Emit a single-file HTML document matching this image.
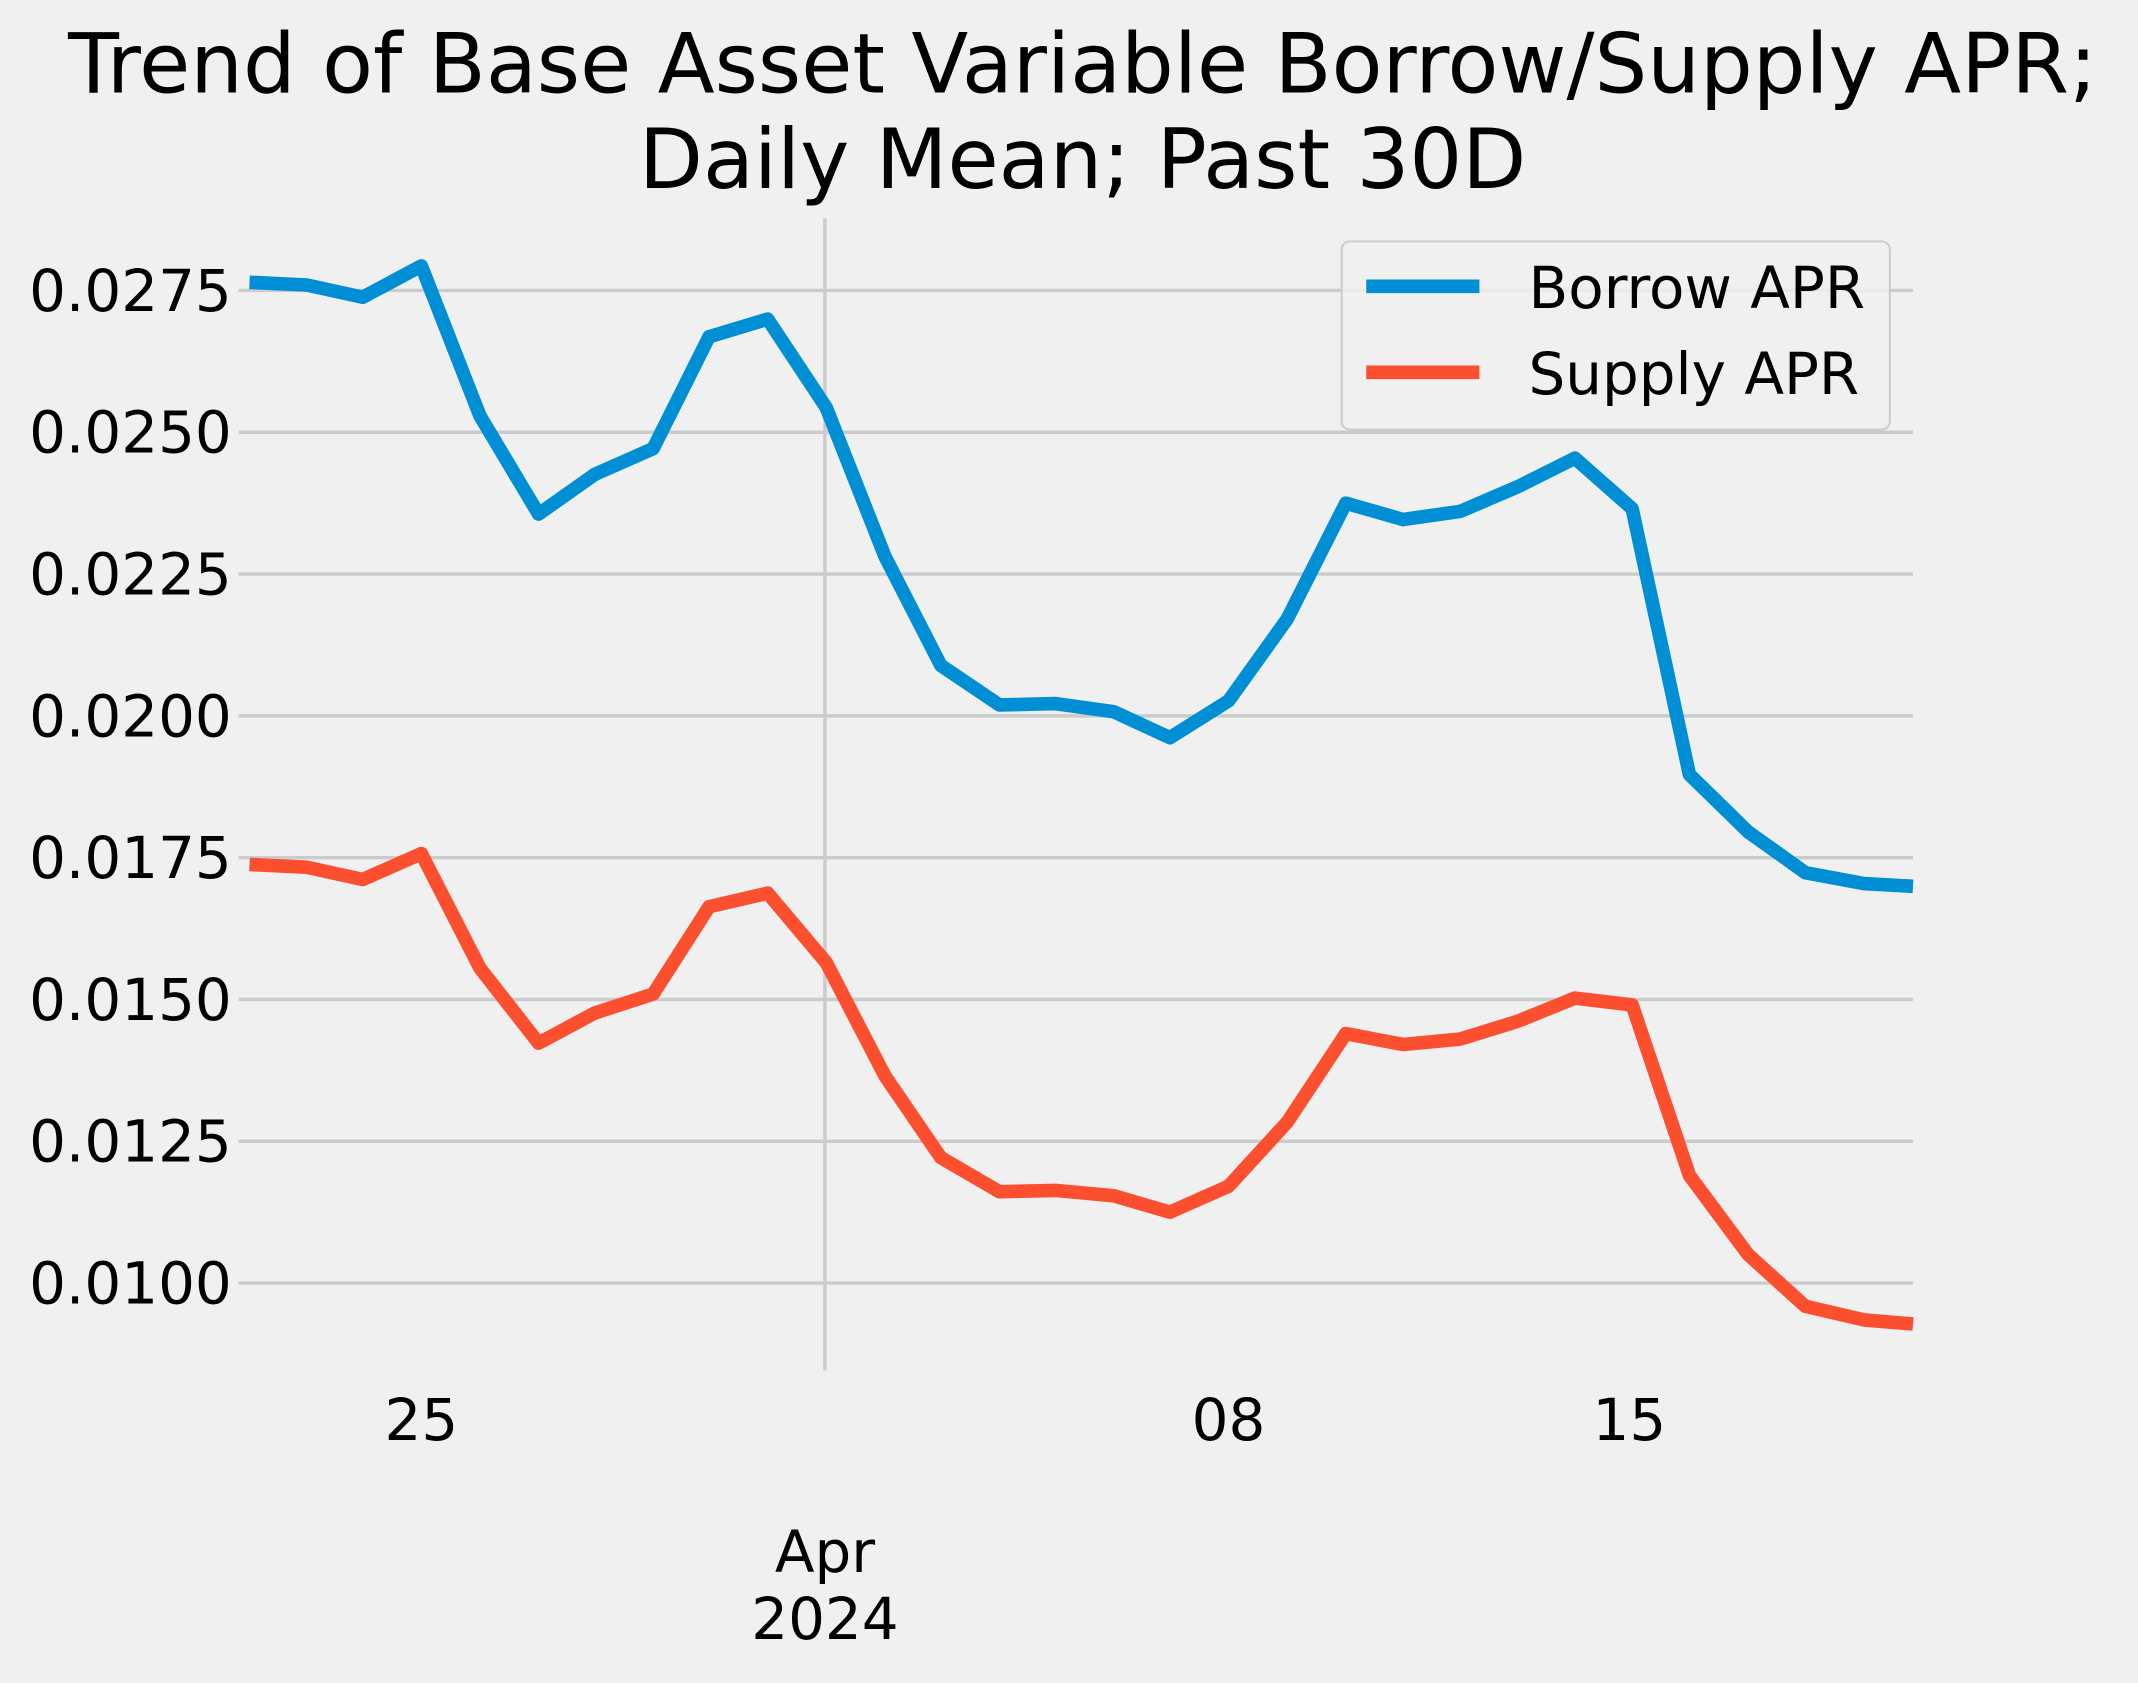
<!DOCTYPE html>
<html><head><style>html,body{margin:0;padding:0;background:#f0f0f0}</style></head>
<body>
<svg width="2138" height="1678" viewBox="0 0 1568 1230.6" xmlns="http://www.w3.org/2000/svg" font-family="'DejaVu Sans','Liberation Sans',sans-serif">
<rect width="1568" height="1231" fill="#f0f0f0"/>
<g stroke="#cbcbcb" stroke-width="2.5">
<line x1="175" x2="1403" y1="213" y2="213"/><line x1="175" x2="1403" y1="317" y2="317"/>
<line x1="175" x2="1403" y1="421" y2="421"/><line x1="175" x2="1403" y1="525" y2="525"/>
<line x1="175" x2="1403" y1="629" y2="629"/><line x1="175" x2="1403" y1="733" y2="733"/>
<line x1="175" x2="1403" y1="837" y2="837"/><line x1="175" x2="1403" y1="941" y2="941"/>
<line x1="605" x2="605" y1="160" y2="1005"/>
</g>
<g font-size="42.5" text-anchor="end" fill="#000">
<text x="170" y="228">0.0275</text><text x="170" y="332">0.0250</text><text x="170" y="436">0.0225</text>
<text x="170" y="540">0.0200</text><text x="170" y="644">0.0175</text><text x="170" y="748">0.0150</text>
<text x="170" y="852">0.0125</text><text x="170" y="956">0.0100</text>
</g>
<g font-size="42.5" text-anchor="middle" fill="#000">
<text x="309" y="1056">25</text><text x="901" y="1056">08</text><text x="1195" y="1056">15</text>
<text x="605" y="1153">Apr</text><text x="605" y="1202">2024</text>
</g>
<g font-size="61" text-anchor="middle" fill="#000">
<text x="794" y="68">Trend of Base Asset Variable Borrow/Supply APR;</text>
<text x="794" y="138">Daily Mean; Past 30D</text>
</g>
<g fill="none" stroke-width="10" stroke-linejoin="round">
<polyline stroke="#008fd5" points="183,207 225,209 266,218 309,195 352,305 395,377 436,348 479,329 520,247 563,234 606,299 649,408 690,488 733,517 774,516 817,522 858,541 901,514 944,454 987,369 1029,381 1071,375 1113,357 1155,336 1197,373 1239,568 1282,610 1324,640 1367,648 1403,650"/>
<polyline stroke="#fc4f30" points="183,634 225,636 266,645 309,626 352,710 395,765 436,743 479,729 520,665 563,655 606,706 649,789 690,849 733,874 774,873 817,877 858,889 901,870 944,823 987,758 1029,766 1071,762 1113,749 1155,732 1197,737 1239,862 1282,920 1324,958 1367,968 1403,971"/>
</g>
<rect x="984" y="177" width="402" height="138" rx="6" fill="#f0f0f0" fill-opacity="0.8" stroke="#cccccc" stroke-width="1.5"/>
<line x1="1002" x2="1085" y1="210" y2="210" stroke="#008fd5" stroke-width="10"/>
<line x1="1002" x2="1085" y1="273" y2="273" stroke="#fc4f30" stroke-width="10"/>
<g font-size="42.5" fill="#000"><text x="1121" y="226">Borrow APR</text><text x="1121" y="289">Supply APR</text></g>
</svg>
</body></html>
